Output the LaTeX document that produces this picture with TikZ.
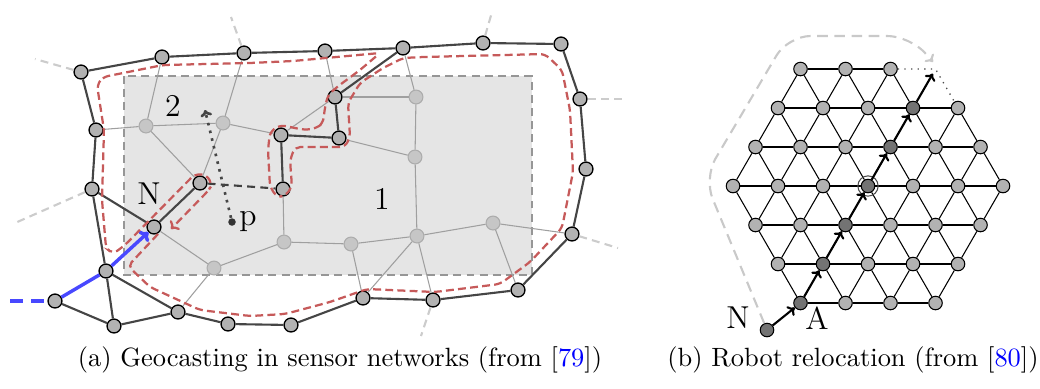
\documentclass[tikz,border=0pt]{standalone}
\usetikzlibrary{arrows.meta}
\definecolor{rutaroja}{RGB}{198,90,90}
\definecolor{azul}{RGB}{72,72,255}
\begin{document}
\begin{tikzpicture}[
    x=0.0133cm, y=-0.0133cm,
    nodo/.style={circle, draw=black, line width=0.5pt, fill=gray!60,
        minimum size=0.185cm, inner sep=0pt},
    claro/.style={circle, draw=gray!65, line width=0.4pt, fill=gray!45,
        minimum size=0.185cm, inner sep=0pt},
    oscura/.style={black!73, line width=0.8pt},
    fina/.style={gray!75, line width=0.4pt},
    talon/.style={gray!40, line width=0.8pt, dash pattern=on 3pt off 2pt},
    rojo/.style={rutaroja, line width=0.85pt, dash pattern=on 3pt off 1.6pt},
    celda/.style={circle, draw=black, line width=0.4pt, fill=gray!60,
        minimum size=0.18cm, inner sep=0pt},
    malla/.style={black, line width=0.4pt},
    etq/.style={font=\large, inner sep=1pt},
    ruta/.style={-{To[length=2.5pt,width=4.5pt]}, line width=0.8pt}]
    \useasboundingbox (0,0) rectangle (1040,388);

    % Region de destino.
    \draw[gray!82, fill=gray!20, line width=0.6pt, dash pattern=on 3pt off 2pt]
        (124,76) rectangle (532,275);

    % Nodos del borde y de la ruta.
    \foreach \n/\x/\y in {b1/81/72, b2/162/57, b3/244/53, b4/325/51, b5/403/48,
        b6/483/43, b7/561/44, b8/580/99, b9/586/169, b10/572/234, b11/518/290,
        b12/433/300, b13/363/298, b14/291/325, b15/228/324, b16/178/312,
        b17/114/326, b18/55/301, b19/106/271, b20/92/189, b21/96/130,
        n/154/227, r1/200/183, r2/283/189, r3/281/135, r4/339/138, r5/335/97}
        \node[nodo] (\n) at (\x,\y) {};

    % Nodos interiores.
    \foreach \n/\x/\y in {l1/146/126, l2/223/123, l3/416/97, l4/415/157,
        l5/284/242, l6/351/244, l7/417/236, l8/493/223, l9/214/268}
        \node[claro] (\n) at (\x,\y) {};

    % Enlaces interiores.
    \foreach \a/\b in {b2/l1, b3/l2, b21/l1, l1/l2, l2/r3, l1/r1, l2/r1, b4/r5,
        b5/l3, r5/l3, l3/l4, r4/l4, r3/r5, r2/l5, l5/l6, l6/l7, l4/l7, l7/l8,
        l8/b10, l8/b11, l7/b12, l7/b13, l6/b13, l5/l9, l9/n, l9/b16}
        \draw[fina] (\a) -- (\b);

    % Enlaces del borde.
    \draw[oscura] (b1) -- (b2) -- (b3) -- (b4) -- (b5) -- (b6) -- (b7) -- (b8)
        -- (b9) -- (b10) -- (b11) -- (b12) -- (b13) -- (b14) -- (b15) -- (b16)
        -- (b17) -- (b18);
    \draw[oscura] (b17) -- (b19) -- (b16);
    \draw[oscura] (b19) -- (b20) -- (b21) -- (b1);
    \draw[oscura] (b20) -- (n) -- (r1);
    \draw[oscura] (r2) -- (r3) -- (r4) -- (r5) -- (b5);
    \draw[black!75, line width=0.8pt, dash pattern=on 3pt off 2pt] (r1) -- (r2);

    % Enlaces hacia fuera.
    \foreach \a/\x/\y in {b1/35/59, b3/231/17, b6/492/12, b8/626/99,
        b10/618/248, b12/421/336, b20/15/223}
        \draw[talon] (\a) -- (\x,\y);

    % Paquete entrante.
    \coordinate (entrada) at (10,301);
    \draw[azul, line width=1.3pt, dash pattern=on 5pt off 3pt] (entrada) -- (b18);
    \draw[azul, line width=1.3pt, -{To[length=3pt,width=5.5pt]}]
        (b18) -- (b19) -- (n);

    % Recorrido del perimetro.
    \draw[rojo, rounded corners=2pt, -{To[length=2.5pt,width=5pt]}]
        (158,234) -- (128,266) -- (150,287) -- (200,310) -- (250,316)
        -- (285,314) -- (330,302) -- (367,289) -- (435,292) -- (500,284)
        -- (530,262) -- (562,228) -- (573,172) -- (570,110) -- (562,70)
        -- (545,54) -- (423,57) -- (403,58) -- (383,68) -- (360,83)
        -- (348,103) -- (350,137) -- (345,147) -- (317,147) -- (295,147)
        -- (290,160) -- (292,187) -- (285,196) -- (277,197) -- (270,187)
        -- (268,150) -- (270,132) -- (280,125) -- (305,130) -- (317,128)
        -- (323,123) -- (325,107) -- (328,95) -- (337,87) -- (360,70)
        -- (380,53) -- (293,61) -- (250,63) -- (163,65) -- (103,77)
        -- (97,85) -- (104,130) -- (102,200) -- (106,248) -- (113,254)
        -- (125,245) -- (195,174) -- (207,175) -- (212,185) -- (208,191)
        -- (171,229);

    % Punto p y direccion.
    \node[circle, fill=black!80, minimum size=0.1cm, inner sep=0pt] (p) at (232,222) {};
    \node[etq, anchor=west] (etqp) at (p.east) {p};
    \coordinate (dest) at (205,110);
    \draw[gray!55!black, line width=1pt, dotted, -{To[length=2.5pt,width=4.5pt]}]
        (p) -- (dest);

    % Etiquetas.
    \node[etq] (etqN) at (149,194) {N};
    \node[etq] (reg2) at (173,106) {2};
    \node[etq] (reg1) at (382,199) {1};

    % Malla triangular.
    \foreach \i in {-3,...,3}
        \foreach \j in {-3,...,3} {
            \pgfmathtruncatemacro\ok{abs(\i+\j)<4}
            \pgfmathtruncatemacro\osc{(\i+\j==0) && (\i<3)}
            \pgfmathtruncatemacro\falta{(\i==3) && (\j==-3)}
            \ifnum\falta=1
                \coordinate (h\i\j) at ({868+45*((\i)+(\j)/2)},{186+39*(\j)});
            \else\ifnum\ok=1
                \ifnum\osc=1
                    \node[celda, fill=black!55] (h\i\j)
                        at ({868+45*((\i)+(\j)/2)},{186+39*(\j)}) {};
                \else
                    \node[celda] (h\i\j)
                        at ({868+45*((\i)+(\j)/2)},{186+39*(\j)}) {};
                \fi
            \fi\fi
        }
    \foreach \i in {-3,...,3}
        \foreach \j in {-3,...,3} {
            \pgfmathtruncatemacro\ip{\i+1}
            \pgfmathtruncatemacro\jp{\j+1}
            \pgfmathtruncatemacro\im{\i-1}
            \pgfmathtruncatemacro\ok{(abs(\i+\j)<4) && !((\i==3) && (\j==-3))}
            \pgfmathtruncatemacro\der{\ok && (\ip<4) && (abs(\ip+\j)<4)
                && !((\ip==3) && (\j==-3))}
            \pgfmathtruncatemacro\abd{\ok && (\jp<4) && (abs(\i+\jp)<4)}
            \pgfmathtruncatemacro\abi{\ok && (\im>-4) && (\jp<4)}
            \ifnum\der=1 \draw[malla] (h\i\j) -- (h\ip\j); \fi
            \ifnum\abd=1 \draw[malla] (h\i\j) -- (h\i\jp); \fi
            \ifnum\abi=1 \draw[malla] (h\i\j) -- (h\im\jp); \fi
        }
    \draw[gray!60!black, line width=0.5pt, dotted] (h2-3) -- (h3-3) -- (h3-2);
    \node[circle, draw=gray!60!black, line width=0.4pt, minimum size=0.27cm,
        inner sep=0pt] (anillo) at (h00) {};

    % Robot que se desplaza.
    \node[celda, fill=black!55] (hn) at (767,330) {};
    \draw[ruta] (hn) -- (h-33);
    \foreach \a/\b in {-33/-22, -22/-11, -11/00, 00/1-1, 1-1/2-2}
        \draw[ruta] (h\a) -- (h\b);
    \draw[ruta, shorten >=2pt] (h2-2) -- (h3-3);
    \draw[gray!42, line width=0.8pt, dash pattern=on 4pt off 2.5pt,
        rounded corners=0.3cm, -{To[length=2.5pt,width=4.5pt]}]
        (hn) -- (704,178) -- (788,36) -- (910,36) -- (933,62);
    \node[etq] (etqN2) at (738,318) {N};
    \node[etq] (etqA) at (817,318) {A};

    % Subtitulos.
    \node (capa) at (340,360) {(a) Geocasting in sensor networks (from [\textcolor{blue}{79}])};
    \node (capb) at (853,360) {(b) Robot relocation (from [\textcolor{blue}{80}])};
\end{tikzpicture}
\end{document}
